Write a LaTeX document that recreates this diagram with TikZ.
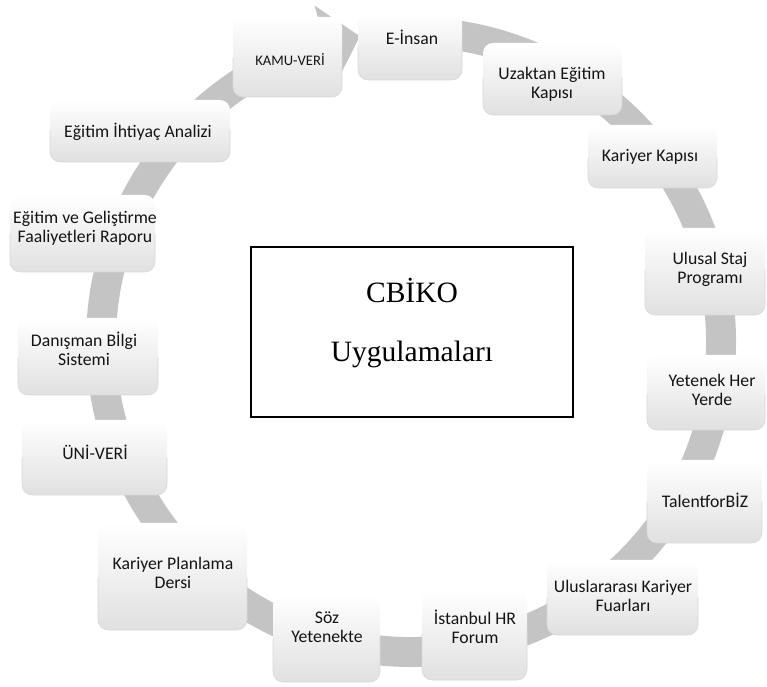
\documentclass[tikz,border=0pt]{standalone}
\usepackage{fontspec}
\setmainfont{Carlito}
\newfontfamily\serifface{Liberation Serif}
\definecolor{ink}{RGB}{20,20,20}
\definecolor{band}{RGB}{196,196,196}
\definecolor{rim}{RGB}{216,216,216}
\tikzset{
  card/.style={rounded corners=0.25cm, top color=white, middle color=black!2, bottom color=black!12},
  cardrim/.style={draw=rim, thin, rounded corners=0.25cm},
  lbl/.style={font=\fontsize{12.6}{13.6}\selectfont, text=ink, align=center, inner sep=1pt},
  ring/.style={fill=band},
  frame/.style={draw=black, line width=1.3pt, minimum width=8.05cm, minimum height=4.25cm},
  headline/.style={font=\serifface\fontsize{21}{25}\selectfont, text=black, align=center},
}
\begin{document}
\begin{tikzpicture}
    \useasboundingbox (0,0) rectangle (19.175,17.15);
    % --- the ring behind the cards ---
    \begin{scope}[shift={(10.275,8.6)}]
      \fill[ring] (85:8.125) arc[start angle=85, end angle=-254, radius=8.125]
        -- (-254:8.75) -- (-260.5:7.75) -- (-254:6.75) -- (-254:7.375)
        arc[start angle=-254, end angle=85, radius=7.375] -- cycle;
    \end{scope}
    % --- the cards, clockwise from the top ---
    \shade[card] (8.95,15.15) rectangle (11.55,16.825);
    \draw[cardrim] (8.95,16.0) -- (8.95,15.15) -- (11.55,15.15) -- (11.55,16.0);
    \node[lbl] (einsan) at (10.3,16.225) {E-İnsan};
    \shade[card] (12.075,14.275) rectangle (15.55,16.075);
    \draw[cardrim] (12.075,15.2) -- (12.075,14.275) -- (15.55,14.275) -- (15.55,15.2);
    \node[lbl] (uzaktan) at (13.8,15.05) {Uzaktan Eğitim\\Kapısı};
    \shade[card] (14.7,12.45) rectangle (17.925,14.025);
    \draw[cardrim] (14.7,13.2) -- (14.7,12.45) -- (17.925,12.45) -- (17.925,13.2);
    \node[lbl] (kariyer) at (16.25,13.225) {Kariyer Kapısı};
    \shade[card] (16.125,9.275) rectangle (19.125,11.45);
    \draw[cardrim] (16.125,10.4) -- (16.125,9.275) -- (19.125,9.275) -- (19.125,10.4);
    \node[lbl] (staj) at (17.75,10.425) {Ulusal Staj\\Programı};
    \shade[card] (16.175,6.4) rectangle (19.125,8.275);
    \draw[cardrim] (16.175,7.3) -- (16.175,6.4) -- (19.125,6.4) -- (19.125,7.3);
    \node[lbl] (yetenek) at (17.8,7.4) {Yetenek Her\\Yerde};
    \shade[card] (16.175,3.575) rectangle (19.05,5.65);
    \draw[cardrim] (16.175,4.6) -- (16.175,3.575) -- (19.05,3.575) -- (19.05,4.6);
    \node[lbl] (talent) at (17.625,4.65) {TalentforBİZ};
    \shade[card] (13.675,1.275) rectangle (17.45,3.15);
    \draw[cardrim] (13.675,2.2) -- (13.675,1.275) -- (17.45,1.275) -- (17.45,2.2);
    \node[lbl] (fuar) at (15.575,2.25) {Uluslararası Kariyer\\Fuarları};
    \shade[card] (10.55,0.15) rectangle (13.175,2.4);
    \draw[cardrim] (10.55,1.3) -- (10.55,0.15) -- (13.175,0.15) -- (13.175,1.3);
    \node[lbl] (hrforum) at (11.875,1.475) {İstanbul HR\\Forum};
    \shade[card] (6.825,0.1) rectangle (9.5,2.275);
    \draw[cardrim] (6.825,1.2) -- (6.825,0.1) -- (9.5,0.1) -- (9.5,1.2);
    \node[lbl] (soz) at (8.175,1.475) {Söz\\Yetenekte};
    \shade[card] (2.45,1.4) rectangle (6.175,4.075);
    \draw[cardrim] (2.45,2.7) -- (2.45,1.4) -- (6.175,1.4) -- (6.175,2.7);
    \node[lbl] (ders) at (4.325,2.825) {Kariyer Planlama\\Dersi};
    \shade[card] (0.55,4.775) rectangle (4.175,6.65);
    \draw[cardrim] (0.55,5.7) -- (0.55,4.775) -- (4.175,4.775) -- (4.175,5.7);
    \node[lbl] (univeri) at (2.375,5.85) {ÜNİ-VERİ};
    \shade[card] (0.45,7.275) rectangle (3.95,9.2);
    \draw[cardrim] (0.45,8.2) -- (0.45,7.275) -- (3.95,7.275) -- (3.95,8.2);
    \node[lbl] (danisman) at (2.1,8.425) {Danışman Bİlgi\\Sistemi};
    \shade[card] (0.25,10.35) rectangle (3.875,12.275);
    \draw[cardrim] (0.25,11.3) -- (0.25,10.35) -- (3.875,10.35) -- (3.875,11.3);
    \node[lbl] (rapor) at (2.125,11.45) {Eğitim ve Geliştirme\\Faaliyetleri Raporu};
    \shade[card] (1.25,13.1) rectangle (5.75,14.65);
    \draw[cardrim] (1.25,13.9) -- (1.25,13.1) -- (5.75,13.1) -- (5.75,13.9);
    \node[lbl] (analiz) at (3.45,13.85) {Eğitim İhtiyaç Analizi};
    \shade[card] (5.825,14.725) rectangle (8.55,16.725);
    \draw[cardrim] (5.825,15.7) -- (5.825,14.725) -- (8.55,14.725) -- (8.55,15.7);
    \node[lbl, font=\fontsize{10.4}{12}\selectfont] (kamuveri) at (7.25,15.65) {KAMU-VERİ};
    % --- the middle ---
    \node[frame] (core) at (10.3,8.85) {};
    \node[headline] (core-t) at (10.3,9.075) {CBİKO\\[17pt]Uygulamaları};
\end{tikzpicture}
\end{document}
